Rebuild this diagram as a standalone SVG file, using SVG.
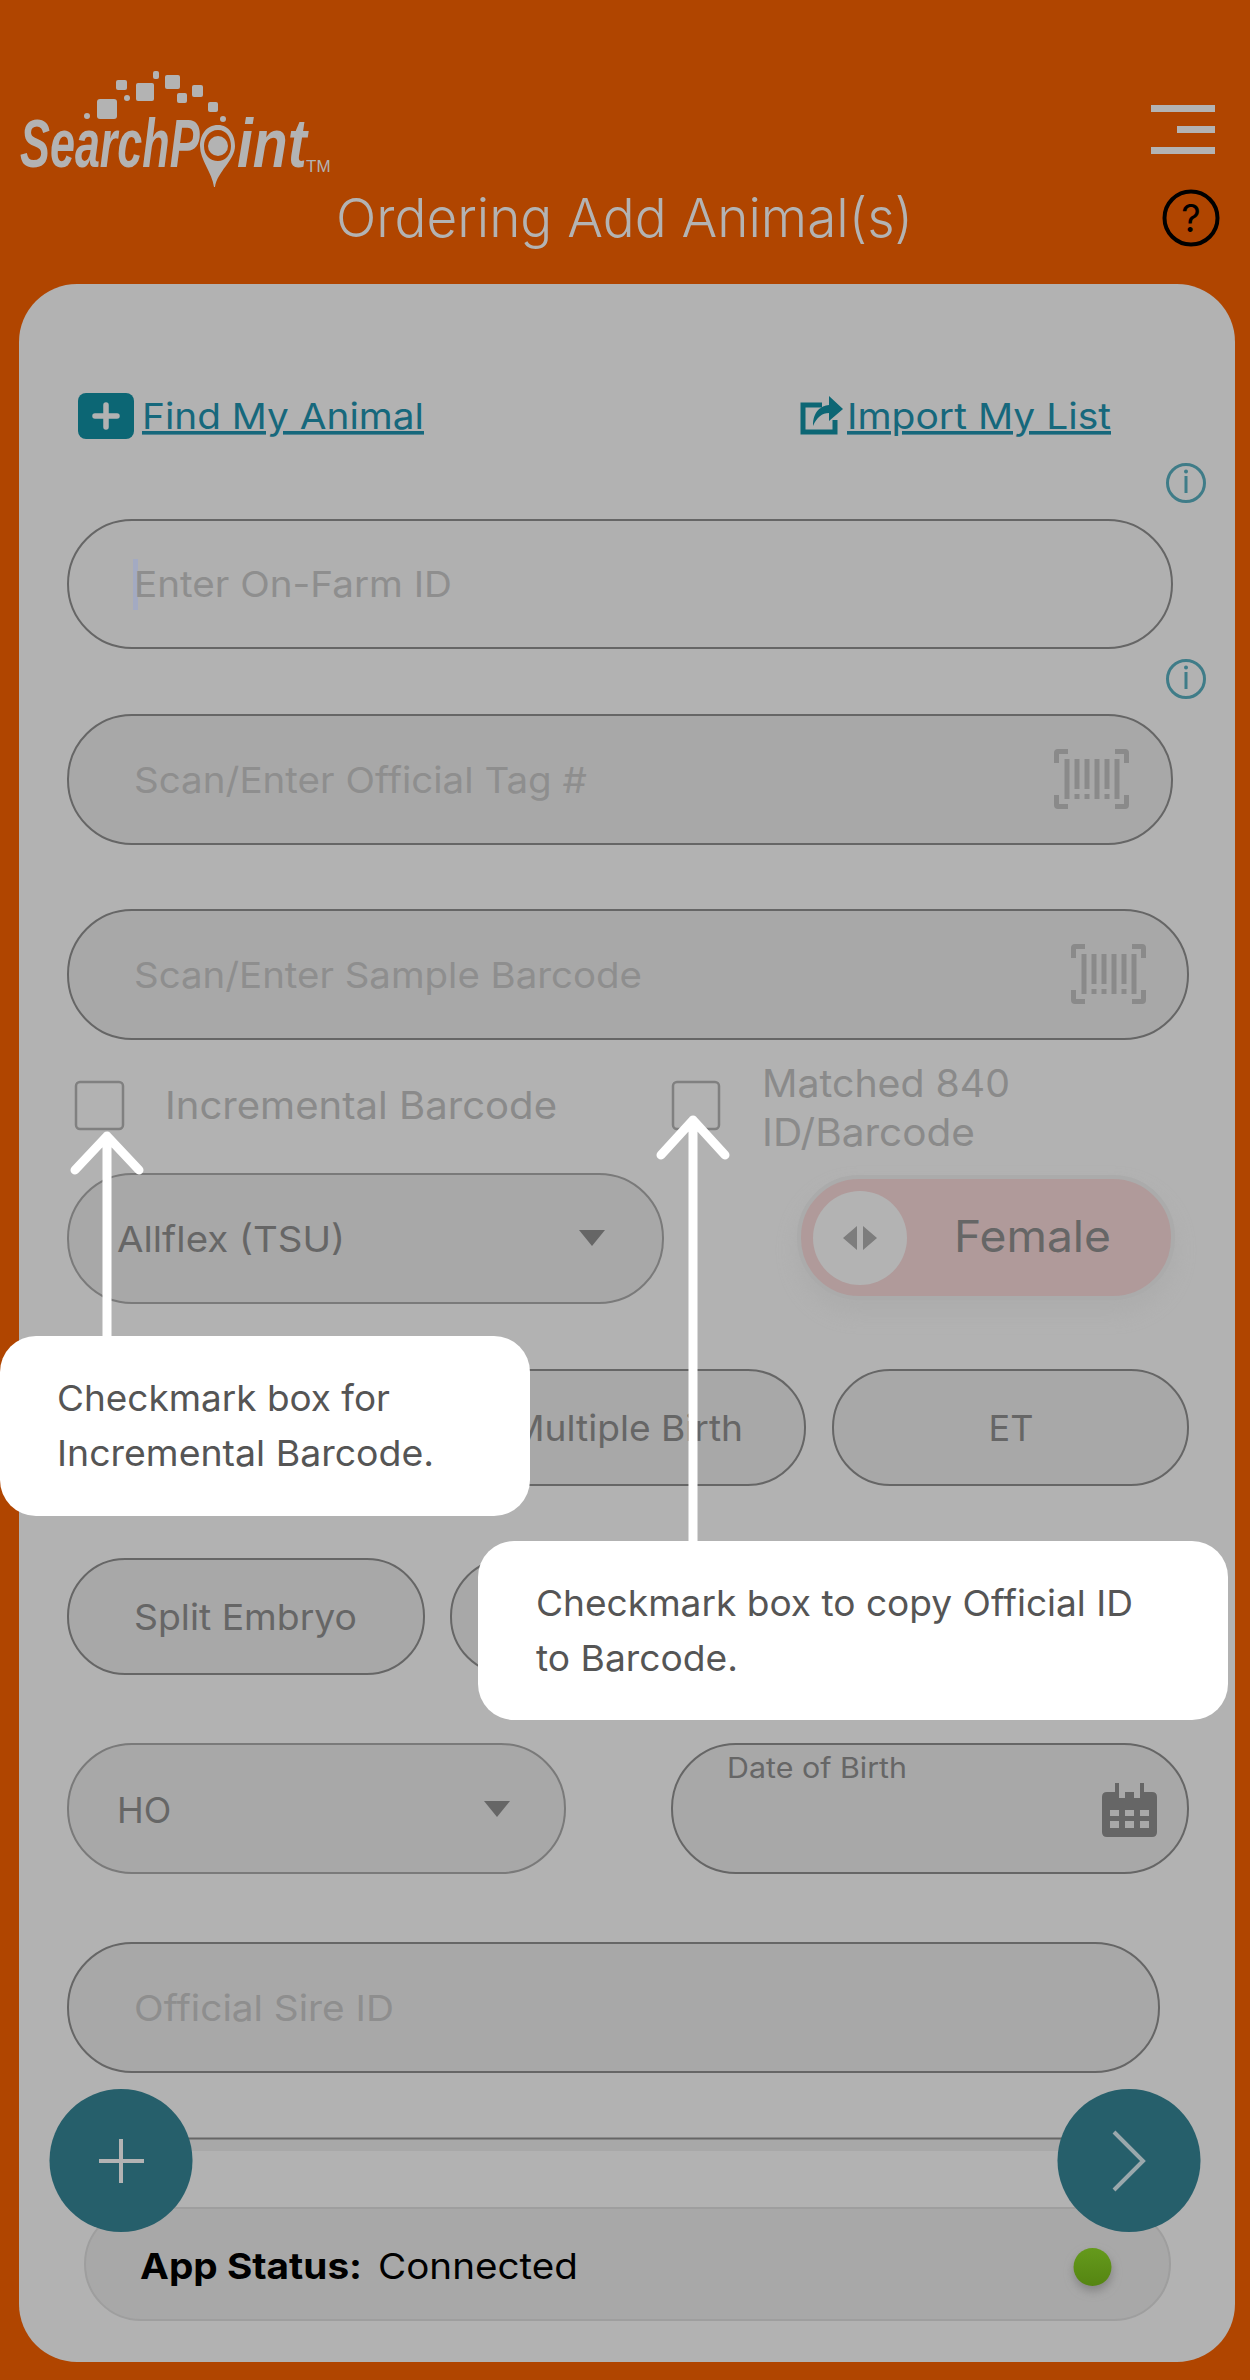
<svg xmlns="http://www.w3.org/2000/svg" xmlns:xlink="http://www.w3.org/1999/xlink" width="1250" height="2380" viewBox="0 0 1250 2380">
<style>
text{font-family:"Inter","Liberation Sans",sans-serif}
.fld{fill:#a8a8a8;stroke:#666;stroke-width:2}
.ph{fill:#8e8e8e;font-size:36px}
.val{fill:#666;font-size:36px}
.link{fill:#16687c;font-size:36px;text-decoration:underline}
.cb{fill:none;stroke:#808080;stroke-width:2.5}
.call{fill:#fff}
.ctext{fill:#555;font-size:36px}
.info{fill:none;stroke:#3f7c88;stroke-width:3}
.lg{fill:#b3b3b3}
.arrow{fill:none;stroke:#fff;stroke-linecap:round;stroke-linejoin:round}
.bc{fill:#8a8a8a}
</style>
<defs>
<g id="barcode">
<path d="M14 2.500H4Q2.500 2.500 2.500 4V14M61 2.500H71Q72.500 2.500 72.500 4V14M14 57.500H4Q2.500 57.500 2.500 56V46M61 57.500H71Q72.500 57.500 72.500 56V46" fill="none" stroke="#8a8a8a" stroke-width="5"/>
<g class="bc"><rect x="10.500" y="10" width="5" height="40"/><rect x="20.500" y="10" width="5" height="30"/><rect x="20.500" y="45" width="5" height="5"/><rect x="30.500" y="10" width="5" height="30"/><rect x="30.500" y="45" width="5" height="5"/><rect x="40.500" y="10" width="5" height="40"/><rect x="50.500" y="10" width="5" height="30"/><rect x="50.500" y="45" width="5" height="5"/><rect x="60.500" y="10" width="5" height="40"/></g>
</g>
<g id="info"><circle r="18.500" class="info"/><rect x="-1.500" y="-7" width="3" height="17" fill="#3f7c88"/><circle cy="-11.500" r="2" fill="#3f7c88"/></g>
<filter id="soft" x="-20%" y="-40%" width="140%" height="180%"><feGaussianBlur stdDeviation="9"/></filter>
<filter id="soft2" x="-100%" y="-100%" width="300%" height="300%"><feGaussianBlur stdDeviation="5"/></filter>
<linearGradient id="led" x1="0" y1="0" x2="0" y2="1"><stop offset="0" stop-color="#659a1c"/><stop offset="1" stop-color="#558512"/></linearGradient>
</defs>
<rect width="1250" height="2380" fill="#b04500"/>
<g id="logo">
<rect class="lg" x="97" y="99" width="20" height="20" rx="3"/><rect class="lg" x="136" y="83" width="18" height="18" rx="2"/><rect class="lg" x="116" y="80" width="11" height="10" rx="2"/><rect class="lg" x="165" y="75" width="15" height="14" rx="2"/><rect class="lg" x="192" y="85" width="11" height="12" rx="2"/><rect class="lg" x="177" y="93" width="10" height="10" rx="2"/><rect class="lg" x="208" y="102" width="10" height="10" rx="2"/><rect class="lg" x="153" y="71" width="6" height="8" rx="2"/>
<circle class="lg" cx="127" cy="98" r="3"/><circle class="lg" cx="87" cy="116" r="3"/><circle class="lg" cx="223" cy="119" r="3"/>
<text transform="translate(20 167) scale(.66 1)" font-size="68" font-weight="700" font-style="italic" fill="#b3b3b3" style="font-family:'Liberation Sans',sans-serif">SearchP</text>
<path class="lg" fill-rule="evenodd" d="M218 125C206 125 200 135 200 146C200 160 212 172 214 187H215C217 172 235 160 235 146C235 135 229 125 218 125ZM218 130C227 130 231 138 231 146C231 155 225 161 218 161C210 161 204 155 204 146C204 138 209 130 218 130Z"/>
<circle class="lg" cx="218" cy="146" r="10"/>
<text transform="translate(237 167) scale(.84 1)" font-size="68" font-weight="700" font-style="italic" fill="#b3b3b3" style="font-family:'Liberation Sans',sans-serif">int</text>
<text x="306" y="172" font-size="17" fill="#b3b3b3" style="font-family:'Liberation Sans',sans-serif">TM</text>
</g>
<g id="menu" class="lg"><rect x="1151" y="105" width="64" height="7"/><rect x="1177" y="126" width="38" height="7"/><rect x="1151" y="147" width="64" height="7"/></g>
<text id="title" x="336" y="237" font-size="54" font-weight="300" fill="#b3b3b3" textLength="577" lengthAdjust="spacingAndGlyphs">Ordering Add Animal(s)</text>
<g id="help"><circle cx="1191" cy="218" r="26.500" fill="none" stroke="#000" stroke-width="4"/><text x="1191" y="232" font-size="38" fill="#000" text-anchor="middle">?</text></g>
<rect id="card" x="19" y="284" width="1216" height="2078" rx="58" fill="#b2b2b2"/>
<g id="find-my-animal"><rect x="78" y="393" width="56" height="46" rx="8" fill="#0c6674"/><path d="M106 405V427M95 416H117" stroke="#b2b2b2" stroke-width="5.500" stroke-linecap="round"/><text class="link" x="142" y="429" textLength="282" lengthAdjust="spacingAndGlyphs">Find My Animal</text></g>
<g id="import-my-list"><path d="M822 405H803V432H835V420" fill="none" stroke="#0c6674" stroke-width="5"/><path d="M813 426C813 411 821 406 829 405V396L843 409L829 421V413C822 413 817 417 813 426Z" fill="#0c6674"/><text class="link" x="847" y="429" textLength="264" lengthAdjust="spacingAndGlyphs">Import My List</text></g>
<use id="info-1" href="#info" x="1186" y="483"/>
<g id="on-farm"><rect class="fld" style="fill:#b0b0b0" x="68" y="520" width="1104" height="128" rx="64"/><rect x="133" y="559" width="5" height="51" fill="#a3aac2"/><text class="ph" x="134" y="597" textLength="318" lengthAdjust="spacingAndGlyphs">Enter On-Farm ID</text></g>
<use id="info-2" href="#info" x="1186" y="679"/>
<g id="official-tag"><rect class="fld" x="68" y="715" width="1104" height="129" rx="64"/><text class="ph" x="134" y="793" textLength="453" lengthAdjust="spacingAndGlyphs">Scan/Enter Official Tag #</text><use href="#barcode" x="1054" y="749"/></g>
<g id="sample-barcode"><rect class="fld" x="68" y="910" width="1120" height="129" rx="64"/><text class="ph" x="134" y="988" textLength="508" lengthAdjust="spacingAndGlyphs">Scan/Enter Sample Barcode</text><use href="#barcode" x="1071" y="944"/></g>
<g id="incremental"><rect class="cb" x="76" y="1082" width="47" height="47" rx="4"/><text x="165" y="1119" font-size="38" fill="#8a8a8a" textLength="392" lengthAdjust="spacingAndGlyphs">Incremental Barcode</text></g>
<g id="matched"><rect class="cb" x="673" y="1082" width="46" height="47" rx="4"/><text x="762" y="1097" font-size="38" fill="#8a8a8a" textLength="248" lengthAdjust="spacingAndGlyphs">Matched 840</text><text x="762" y="1146" font-size="38" fill="#8a8a8a" textLength="213" lengthAdjust="spacingAndGlyphs">ID/Barcode</text></g>
<g id="allflex"><rect class="fld" style="stroke:#7a7a7a" x="68" y="1174" width="595" height="129" rx="64"/><text class="val" x="117" y="1252" textLength="228" lengthAdjust="spacingAndGlyphs">Allflex (TSU)</text><path d="M579 1230H605L592 1246Z" fill="#666"/></g>
<g id="sex-toggle"><rect x="795" y="1185" width="382" height="130" rx="64" fill="#aaaaaa" opacity=".6" filter="url(#soft)"/><rect x="799" y="1177" width="374" height="121" rx="60" fill="#b09a9a" stroke="#ababab" stroke-width="4"/><circle cx="860" cy="1238" r="47" fill="#b3b3b3"/><path d="M857 1226V1250L843 1238ZM863 1226V1250L877 1238Z" fill="#7d7d7d"/><text x="954" y="1252" font-size="44" fill="#666" textLength="157" lengthAdjust="spacingAndGlyphs">Female</text></g>
<g id="multiple-birth"><rect class="fld" x="450" y="1370" width="355" height="115" rx="57"/><text class="val" x="627" y="1441" text-anchor="middle" textLength="232" lengthAdjust="spacingAndGlyphs">Multiple Birth</text></g>
<g id="et"><rect class="fld" x="833" y="1370" width="355" height="115" rx="57"/><text class="val" x="1011" y="1441" text-anchor="middle">ET</text></g>
<g id="split-embryo"><rect class="fld" x="68" y="1559" width="356" height="115" rx="57"/><text class="val" x="134" y="1630" textLength="223" lengthAdjust="spacingAndGlyphs">Split Embryo</text></g>
<g id="pill-hidden"><rect class="fld" x="451" y="1559" width="355" height="115" rx="57"/></g>
<g id="breed"><rect class="fld" style="stroke:#7a7a7a" x="68" y="1744" width="497" height="129" rx="64"/><text class="val" x="117" y="1823">HO</text><path d="M484 1801H510L497 1817Z" fill="#666"/></g>
<g id="dob"><rect class="fld" x="672" y="1744" width="516" height="129" rx="64"/><text x="727" y="1778" font-size="28" fill="#666" textLength="180" lengthAdjust="spacingAndGlyphs">Date of Birth</text>
<path fill="#666" fill-rule="evenodd" d="M1107 1792H1115V1783H1119V1798H1125V1792H1134V1798H1140V1783H1144V1792H1152Q1157 1792 1157 1797V1832Q1157 1837 1152 1837H1107Q1102 1837 1102 1832V1797Q1102 1792 1107 1792ZM1110 1810V1816H1119V1810ZM1125 1810V1816H1134V1810ZM1140 1810V1816H1149V1810ZM1110 1821V1828H1119V1821ZM1125 1821V1828H1134V1821ZM1140 1821V1828H1149V1821Z"/></g>
<g id="sire"><rect class="fld" x="68" y="1943" width="1091" height="129" rx="64"/><text class="ph" x="134" y="2021" textLength="260" lengthAdjust="spacingAndGlyphs">Official Sire ID</text></g>
<g id="next-field"><rect x="160" y="2139" width="920" height="12" fill="#a8a8a8"/><line x1="160" y1="2138.500" x2="1080" y2="2138.500" stroke="#666" stroke-width="2"/></g>
<g id="status"><rect x="85" y="2208" width="1085" height="112" rx="56" fill="#a8a8a8" stroke="#9e9e9e" stroke-width="2"/><text x="140" y="2279" font-size="36" font-weight="700" fill="#000" textLength="222" lengthAdjust="spacingAndGlyphs">App Status:</text><text x="378" y="2279" font-size="36" fill="#000" textLength="200" lengthAdjust="spacingAndGlyphs">Connected</text><circle cx="1093" cy="2272" r="19" fill="#848484" filter="url(#soft2)"/><circle cx="1092.500" cy="2267" r="19" fill="url(#led)"/></g>
<g id="add-button"><circle cx="121" cy="2160.500" r="71.500" fill="#265f6b"/><path d="M121 2139V2183M99 2161H144" stroke="#b3b3b3" stroke-width="4" fill="none"/></g>
<g id="next-button"><circle cx="1129" cy="2160.500" r="71.500" fill="#265f6b"/><path d="M1114 2132L1143 2161L1114 2190" stroke="#9aa8ac" stroke-width="4" fill="none"/></g>
<g id="connectors">
<path class="arrow" stroke-width="9" d="M107 1340V1136M75 1170L107 1136L139 1170"/>
<path class="arrow" stroke-width="9" d="M693 1545V1120M661 1155L693 1120L725 1155"/>
</g>
<g id="callout-incremental"><rect class="call" x="0" y="1336" width="530" height="180" rx="36"/><text class="ctext" x="57" y="1411" textLength="333" lengthAdjust="spacingAndGlyphs">Checkmark box for</text><text class="ctext" x="57" y="1466" textLength="377" lengthAdjust="spacingAndGlyphs">Incremental Barcode.</text></g>
<g id="callout-official"><rect class="call" x="478" y="1541" width="750" height="179" rx="36"/><text class="ctext" x="536" y="1616" textLength="597" lengthAdjust="spacingAndGlyphs">Checkmark box to copy Official ID</text><text class="ctext" x="536" y="1671" textLength="202" lengthAdjust="spacingAndGlyphs">to Barcode.</text></g>
</svg>
